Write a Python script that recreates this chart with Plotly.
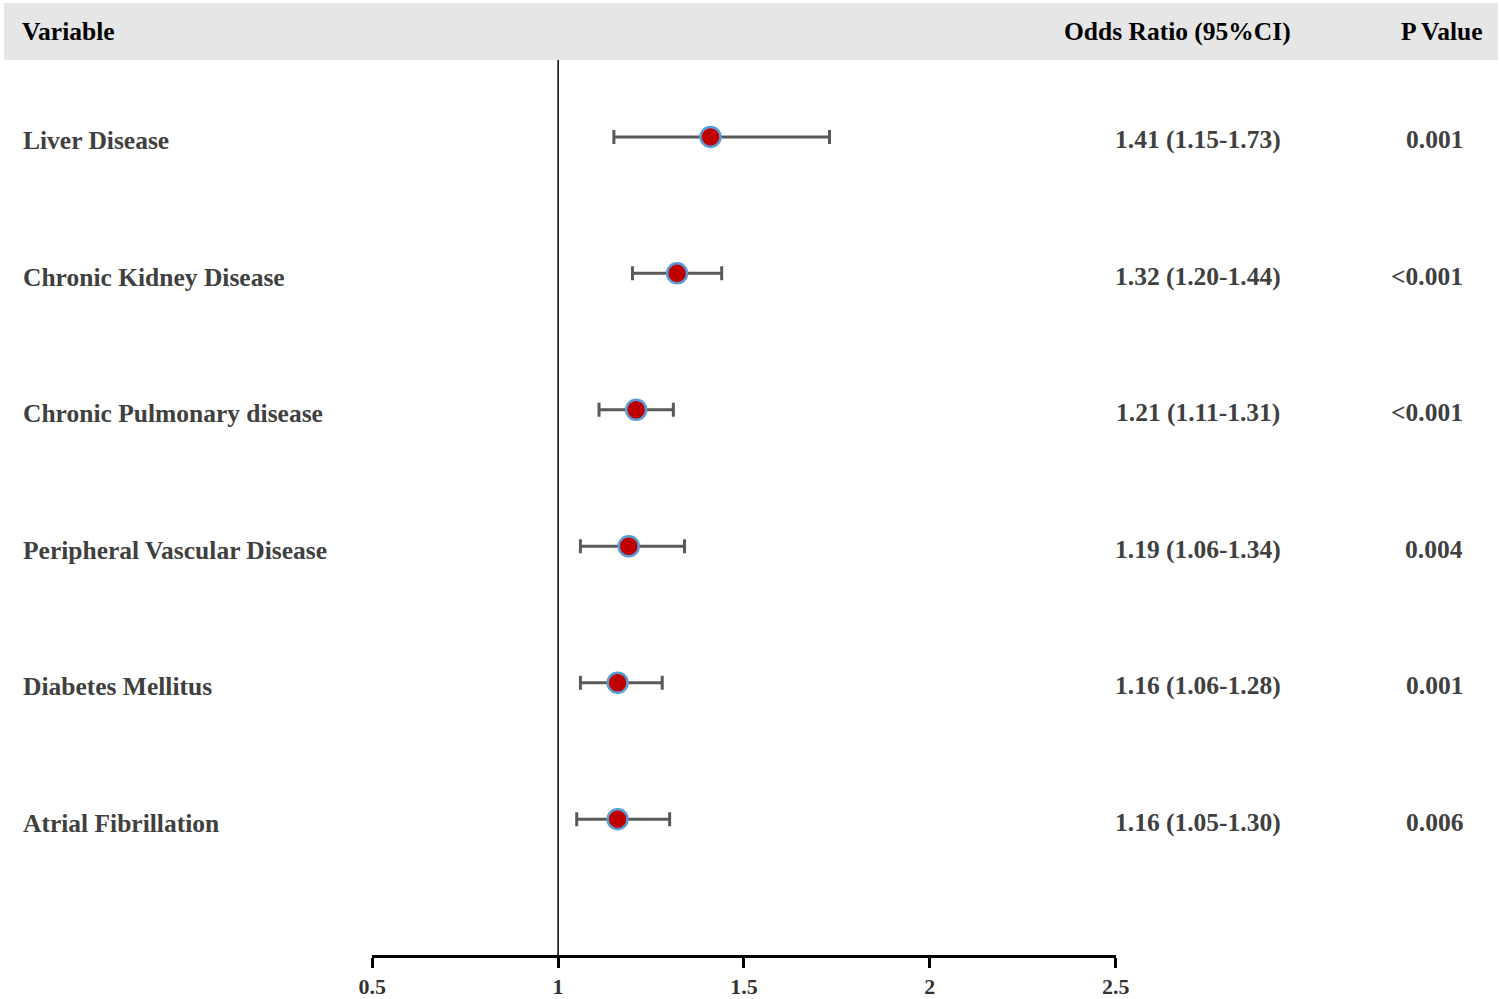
import plotly.graph_objects as go

variables = ["Liver Disease", "Chronic Kidney Disease", "Chronic Pulmonary disease",
             "Peripheral Vascular Disease", "Diabetes Mellitus", "Atrial Fibrillation"]
odds_ratio = [1.41, 1.32, 1.21, 1.19, 1.16, 1.16]
ci_low = [1.15, 1.20, 1.11, 1.06, 1.06, 1.05]
ci_high = [1.73, 1.44, 1.31, 1.34, 1.28, 1.30]
p_values = ["0.001", "<0.001", "<0.001", "0.004", "0.001", "0.006"]
x_ticks = [0.5, 1, 1.5, 2, 2.5]
x_tick_labels = ["0.5", "1", "1.5", "2", "2.5"]

H = 999
FONT = "Liberation Serif"
rows = list(range(len(variables), 0, -1))

def py(p):
    return 1 - p / H

def px(p):
    # horizontal placement measured on the photographed page
    return (p - 14) / 1471

fig = go.Figure()
fig.add_trace(go.Scatter(
    x=odds_ratio, y=rows, mode="markers",
    marker=dict(size=20, color="#c00000", line=dict(color="#5b9bd5", width=2.5)),
    error_x=dict(type="data", symmetric=False,
                 array=[h - o for h, o in zip(ci_high, odds_ratio)],
                 arrayminus=[o - l for o, l in zip(odds_ratio, ci_low)],
                 color="#595959", thickness=3, width=7),
    showlegend=False, hoverinfo="skip",
))

fig.update_layout(
    autosize=True, margin=dict(l=0, r=0, t=0, b=0),
    plot_bgcolor="white", paper_bgcolor="white",
    xaxis=dict(domain=[px(372), px(1115)], range=[0.5, 2.5], tickvals=x_ticks,
               ticktext=[f"<b>{t}</b>" for t in x_tick_labels],
               showline=True, linecolor="black", linewidth=3, ticks="outside",
               ticklen=10, tickwidth=3, tickcolor="black", showgrid=False, zeroline=False,
               tickfont=dict(family=FONT, size=22, color="#333333")),
    yaxis=dict(domain=[py(956), py(60)], range=[0.004, 6.564], visible=False,
               showgrid=False, zeroline=False),
)

# header band
fig.add_shape(type="rect", xref="paper", yref="paper", x0=px(4), x1=px(1497),
              y0=py(60), y1=py(3), fillcolor="#e6e6e6", line=dict(width=0), layer="below")
# reference line at OR = 1
fig.add_shape(type="line", xref="x", yref="paper", x0=1, x1=1, y0=py(956), y1=py(60),
              line=dict(color="black", width=1.5))

hdr = dict(family=FONT, size=25.5, color="black")
fig.add_annotation(text="<b>Variable</b>", xref="paper", yref="paper", x=px(20), y=py(32),
                   xanchor="left", yanchor="middle", showarrow=False, font=hdr)
fig.add_annotation(text="<b>Odds Ratio (95%CI)</b>", xref="paper", yref="paper", x=px(1177), y=py(32),
                   xanchor="center", yanchor="middle", showarrow=False, font=hdr)
fig.add_annotation(text="<b>P Value</b>", xref="paper", yref="paper", x=px(1484), y=py(32),
                   xanchor="right", yanchor="middle", showarrow=False, font=hdr)

body = dict(family=FONT, size=25.5, color="#404040")
for v, o, l, h, p, r in zip(variables, odds_ratio, ci_low, ci_high, p_values, rows):
    fig.add_annotation(text=f"<b>{v}</b>", xref="paper", yref="y", x=px(21), y=r, yshift=-4,
                       xanchor="left", yanchor="middle", showarrow=False, font=body)
    fig.add_annotation(text=f"<b>{o:.2f} ({l:.2f}-{h:.2f})</b>", xref="paper", yref="y",
                       x=px(1197), y=r, yshift=-3, xanchor="center", yanchor="middle",
                       showarrow=False, font=body)
    fig.add_annotation(text=f"<b>{p}</b>", xref="paper", yref="y", x=px(1464), y=r, yshift=-3,
                       xanchor="right", yanchor="middle", showarrow=False, font=body)

post = ("document.documentElement.style.height='100%';"
        "document.documentElement.style.margin='0';"
        "document.body.style.height='100%';"
        "document.body.style.margin='0';"
        "document.body.style.overflow='hidden';"
        "var gd=document.getElementById('{plot_id}');"
        "gd.style.width='100vw';gd.style.height='100vh';"
        "Plotly.Plots.resize(gd);")

fig.write_html("out.html", config={"displayModeBar": False, "responsive": True},
               default_width="100%", default_height="100%", post_script=post)
